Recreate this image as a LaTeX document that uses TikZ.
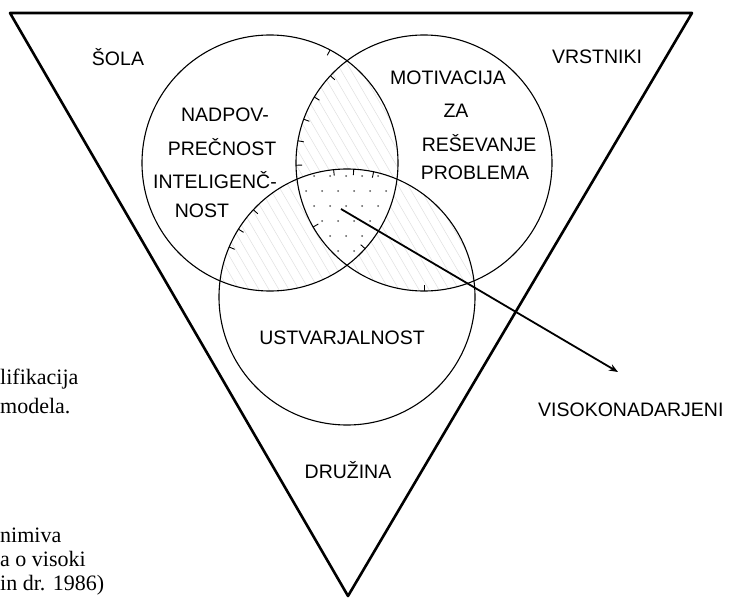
\documentclass[tikz,border=0pt]{standalone}
\usepackage{fontspec}
\setmainfont{Liberation Serif}
\setsansfont{Liberation Sans}
\usetikzlibrary{arrows.meta,positioning,calc}

\begin{document}
\begin{tikzpicture}[x=1pt,y=-1pt,>={Stealth[length=9pt,width=7pt]}]
  \tikzstyle{venn}=[circle,draw=black,line width=1.1pt,minimum size=256pt,inner sep=0pt,outer sep=0pt]
  \tikzstyle{lbl}=[font=\sffamily\fontsize{19.5}{19.5}\selectfont,inner sep=0pt]
  \tikzstyle{capt}=[font=\rmfamily\fontsize{22}{24}\selectfont,inner sep=0pt,anchor=north west,align=left]
  \tikzstyle{hatch}=[gray!25,line width=0.5pt]
  \tikzstyle{tick}=[line width=0.9pt]

  \useasboundingbox (0,0) rectangle (730,599);
  \draw[line width=2.6pt,line join=round] (10,13) -- (692,13) -- (348,596) -- cycle;

  \begin{scope}
    \clip (270,163) circle (128pt);
    \clip (424,163) circle (128pt);
    \foreach \k in {-400,-390,...,700} \draw[hatch] (\k,0) -- ++(350,600);
  \end{scope}
  \begin{scope}
    \clip (270,163) circle (128pt);
    \clip (347,297) circle (128pt);
    \foreach \k in {-400,-390,...,700} \draw[hatch] (\k,0) -- ++(350,600);
  \end{scope}
  \begin{scope}
    \clip (424,163) circle (128pt);
    \clip (347,297) circle (128pt);
    \foreach \k in {-400,-390,...,700} \draw[hatch] (\k,0) -- ++(350,600);
  \end{scope}
  \begin{scope}
    \clip (270,163) circle (128pt);
    \clip (424,163) circle (128pt);
    \clip (347,297) circle (128pt);
    \fill[white] (200,150) rectangle (500,300);
    \foreach \i in {0,...,11}
      \foreach \j in {0,...,8}
        \fill[black!65] ({282+16*\i+8*mod(\j,2)},{176+15*\j}) circle (1pt);
  \end{scope}

  \node[venn] (c_int) at (270,163) {};
  \node[venn] (c_mot) at (424,163) {};
  \node[venn] (c_ust) at (347,297) {};

  \foreach \a in {137,149,160,170,181,210}
    \draw[tick] (c_mot.\a) -- ($(c_mot.\a)!6pt!(c_mot.center)$);
  \foreach \a in {270}
    \draw[tick] (c_mot.\a) -- ($(c_mot.\a)!6pt!(c_mot.center)$);
  \foreach \a in {78,87,96,137,148,157}
    \draw[tick] (c_ust.\a) -- ($(c_ust.\a)!6pt!(c_ust.center)$);
  \foreach \a in {62,318}
    \draw[tick] (c_int.\a) -- ($(c_int.\a)!6pt!(c_int.center)$);

  \node[lbl] (sola) at (118,57) {ŠOLA};
  \node[lbl] (vrst) at (597,57) {VRSTNIKI};
  \node[lbl] (nadpov) at (225,115) {NADPOV-};
  \node[lbl] (precn) at (222,147) {PREČNOST};
  \node[lbl] (intel) at (215,180) {INTELIGENČ-};
  \node[lbl] (nost) at (202,211) {NOST};
  \node[lbl] (motiv) at (448,78) {MOTIVACIJA};
  \node[lbl] (za) at (456,111) {ZA};
  \node[lbl] (resev) at (479,143) {REŠEVANJE};
  \node[lbl] (probl) at (475,173) {PROBLEMA};
  \node[lbl] (ustv) at (342,338) {USTVARJALNOST};
  \node[lbl] (druz) at (348,470) {DRUŽINA};
  \node[lbl,anchor=west] (visoko) at (538,410) {VISOKONADARJENI};

  \coordinate (core) at (341,209);
  \coordinate (tip) at (618,372);
  \draw[->,line width=1.8pt] (core) -- (tip);

  \node[capt,font=\rmfamily\fontsize{22}{29}\selectfont] (cap_a) at (0,369) {lifikacija\\modela.};
  \node[capt] (cap_b) at (0,528) {nimiva\\a o visoki\\in dr. 1986)};
\end{tikzpicture}
\end{document}
